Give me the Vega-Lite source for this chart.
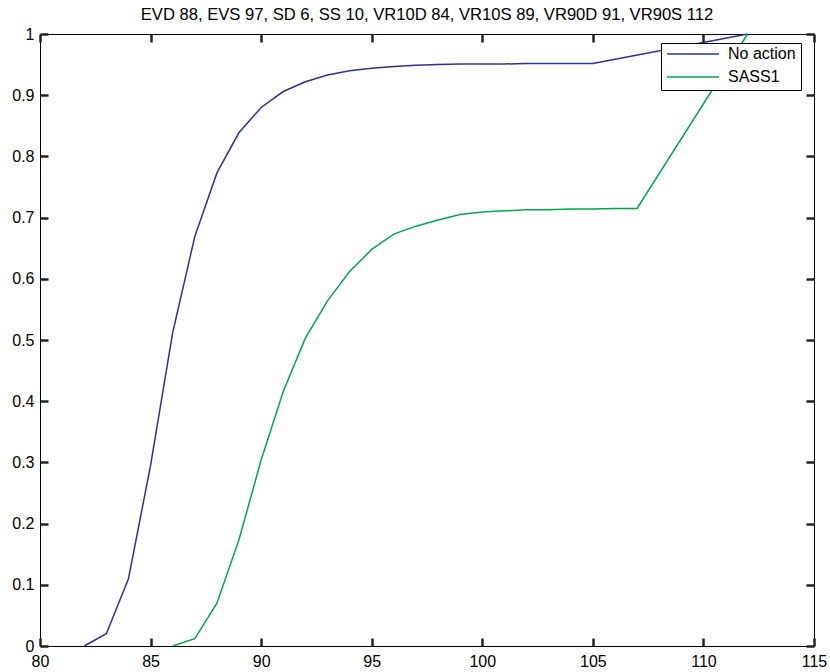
{
  "$schema": "https://vega.github.io/schema/vega-lite/v6.json",
  "autosize": {"type": "none"},
  "width": 774,
  "height": 612,
  "padding": {"left": 40, "top": 34, "right": 16, "bottom": 26},
  "background": "white",
  "title": {
    "text": "EVD 88, EVS 97, SD 6, SS 10, VR10D 84, VR10S 89, VR90D 91, VR90S 112",
    "font": "Liberation Sans",
    "fontSize": 16.6,
    "fontWeight": "normal",
    "color": "#000000",
    "offset": 2,
    "anchor": "middle"
  },
  "config": {
    "view": {"stroke": "#000000", "strokeWidth": 1}
  },
  "data": {
    "values": [
      {"x": 82, "p": 0.0, "s": "No action"},
      {"x": 83, "p": 0.02, "s": "No action"},
      {"x": 84, "p": 0.11, "s": "No action"},
      {"x": 85, "p": 0.295, "s": "No action"},
      {"x": 86, "p": 0.512, "s": "No action"},
      {"x": 87, "p": 0.669, "s": "No action"},
      {"x": 88, "p": 0.773, "s": "No action"},
      {"x": 89, "p": 0.839, "s": "No action"},
      {"x": 90, "p": 0.88, "s": "No action"},
      {"x": 91, "p": 0.906, "s": "No action"},
      {"x": 92, "p": 0.922, "s": "No action"},
      {"x": 93, "p": 0.933, "s": "No action"},
      {"x": 94, "p": 0.94, "s": "No action"},
      {"x": 95, "p": 0.944, "s": "No action"},
      {"x": 96, "p": 0.947, "s": "No action"},
      {"x": 97, "p": 0.949, "s": "No action"},
      {"x": 98, "p": 0.95, "s": "No action"},
      {"x": 99, "p": 0.951, "s": "No action"},
      {"x": 100, "p": 0.951, "s": "No action"},
      {"x": 101, "p": 0.951, "s": "No action"},
      {"x": 102, "p": 0.952, "s": "No action"},
      {"x": 103, "p": 0.952, "s": "No action"},
      {"x": 104, "p": 0.952, "s": "No action"},
      {"x": 105, "p": 0.952, "s": "No action"},
      {"x": 112, "p": 1.0, "s": "No action"},
      {"x": 86, "p": 0.0, "s": "SASS1"},
      {"x": 87, "p": 0.012, "s": "SASS1"},
      {"x": 88, "p": 0.07, "s": "SASS1"},
      {"x": 89, "p": 0.174, "s": "SASS1"},
      {"x": 90, "p": 0.304, "s": "SASS1"},
      {"x": 91, "p": 0.416, "s": "SASS1"},
      {"x": 92, "p": 0.503, "s": "SASS1"},
      {"x": 93, "p": 0.564, "s": "SASS1"},
      {"x": 94, "p": 0.612, "s": "SASS1"},
      {"x": 95, "p": 0.648, "s": "SASS1"},
      {"x": 96, "p": 0.673, "s": "SASS1"},
      {"x": 97, "p": 0.686, "s": "SASS1"},
      {"x": 98, "p": 0.696, "s": "SASS1"},
      {"x": 99, "p": 0.705, "s": "SASS1"},
      {"x": 100, "p": 0.709, "s": "SASS1"},
      {"x": 101, "p": 0.711, "s": "SASS1"},
      {"x": 102, "p": 0.713, "s": "SASS1"},
      {"x": 103, "p": 0.713, "s": "SASS1"},
      {"x": 104, "p": 0.714, "s": "SASS1"},
      {"x": 105, "p": 0.714, "s": "SASS1"},
      {"x": 106, "p": 0.715, "s": "SASS1"},
      {"x": 107, "p": 0.715, "s": "SASS1"},
      {"x": 112, "p": 1.0, "s": "SASS1"}
    ]
  },
  "resolve": {"axis": {"x": "independent", "y": "independent"}},
  "layer": [
    {
      "mark": {"type": "line", "strokeWidth": 1.5},
      "encoding": {
        "x": {
          "field": "x", "type": "quantitative", "title": null,
          "scale": {"domain": [80, 115], "nice": false, "zero": false},
          "axis": {"orient": "bottom", "tickCount": 7, "grid": false, "domain": false, "tickSize": -8, "tickWidth": 2.5, "tickColor": "#222222",
            "labelPadding": 15, "labelFlush": false, "labelColor": "black", "labelFont": "Liberation Sans", "labelFontSize": 16}
        },
        "y": {
          "field": "p", "type": "quantitative", "title": null,
          "scale": {"domain": [0, 1], "nice": false},
          "axis": {"orient": "left", "tickCount": 10, "format": "~g", "grid": false, "domain": false, "tickSize": -8, "tickWidth": 2.5, "tickColor": "#222222",
            "labelPadding": 14, "labelFlush": false, "labelColor": "black", "labelFont": "Liberation Sans", "labelFontSize": 16}
        },
        "color": {
          "field": "s", "type": "nominal",
          "scale": {"domain": ["No action", "SASS1"], "range": ["#2e3192", "#00a651"]},
          "legend": {
            "title": null,
            "orient": "none",
            "legendX": 621,
            "legendY": 9,
            "direction": "vertical",
            "symbolType": "stroke",
            "symbolSize": 2704,
            "symbolStrokeWidth": 1.5,
            "clipHeight": 12,
            "labelFont": "Liberation Sans",
            "labelFontSize": 16,
            "labelColor": "#000000",
            "labelOffset": 8,
            "strokeColor": "#000000",
            "fillColor": "#ffffff",
            "padding": 5,
            "rowPadding": 7
          }
        },
        "order": {"field": "x", "type": "quantitative"}
      }
    },
    {
      "mark": {"type": "line", "opacity": 0},
      "encoding": {
        "x": {
          "field": "x", "type": "quantitative", "title": null,
          "axis": {"orient": "top", "tickCount": 7, "grid": false, "domain": false, "labels": false, "tickSize": -8, "tickWidth": 2.5, "tickColor": "#222222"}
        },
        "y": {
          "field": "p", "type": "quantitative", "title": null,
          "axis": {"orient": "right", "tickCount": 10, "grid": false, "domain": false, "labels": false, "tickSize": -8, "tickWidth": 2.5, "tickColor": "#222222"}
        }
      }
    }
  ]
}
